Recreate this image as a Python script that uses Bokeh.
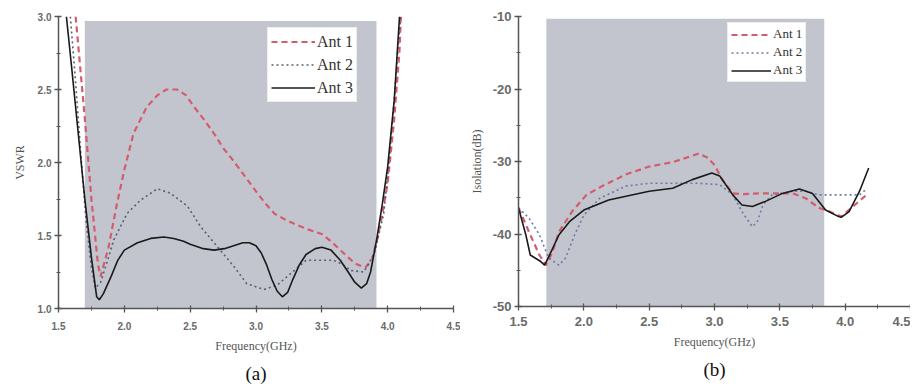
from bokeh.plotting import figure
from bokeh.layouts import row
from bokeh.models import Range1d, Legend, LegendItem, Title, FixedTicker, PrintfTickFormatter
from bokeh.embed import file_html
from bokeh.resources import INLINE

# ---------- Panel (a): VSWR ----------
a_ant1_f = [1.63, 1.66, 1.70, 1.75, 1.80, 1.82, 1.88, 1.94, 2.00, 2.07, 2.17, 2.25, 2.32, 2.40, 2.47, 2.53, 2.60,
            2.68, 2.75, 2.83, 2.92, 3.01, 3.08, 3.14, 3.22, 3.29, 3.40, 3.50, 3.57, 3.64, 3.70, 3.75, 3.80, 3.83,
            3.88, 3.92, 3.96, 4.00, 4.05, 4.09, 4.10]
a_ant1_v = [3.00, 2.70, 2.30, 1.75, 1.30, 1.22, 1.42, 1.70, 1.95, 2.20, 2.38, 2.46, 2.50, 2.50, 2.46, 2.38, 2.30,
            2.20, 2.10, 2.01, 1.90, 1.79, 1.71, 1.65, 1.61, 1.58, 1.54, 1.51, 1.46, 1.40, 1.35, 1.31, 1.29, 1.28,
            1.33, 1.47, 1.65, 1.86, 2.30, 2.77, 3.00]

a_ant2_f = [1.59, 1.63, 1.67, 1.71, 1.75, 1.78, 1.82, 1.87, 1.92, 2.02, 2.12, 2.25, 2.35, 2.48, 2.58, 2.71, 2.83,
            2.93, 3.06, 3.16, 3.29, 3.38, 3.49, 3.59, 3.66, 3.72, 3.82, 3.90, 3.97, 4.01, 4.05, 4.08, 4.10]
a_ant2_v = [3.00, 2.55, 2.05, 1.60, 1.28, 1.14, 1.18, 1.32, 1.47, 1.65, 1.74, 1.82, 1.79, 1.70, 1.56, 1.42, 1.29,
            1.17, 1.13, 1.16, 1.26, 1.33, 1.33, 1.33, 1.30, 1.26, 1.25, 1.38, 1.65, 2.00, 2.43, 2.80, 3.00]

a_ant3_f = [1.56, 1.60, 1.65, 1.70, 1.75, 1.79, 1.81, 1.84, 1.90, 1.95, 2.00, 2.10, 2.20, 2.30, 2.375, 2.45, 2.50,
            2.60, 2.68, 2.76, 2.83, 2.90, 2.95, 3.00, 3.04, 3.08, 3.12, 3.16, 3.20, 3.24, 3.28, 3.33, 3.38, 3.45,
            3.50, 3.57, 3.64, 3.70, 3.75, 3.80, 3.84, 3.87, 3.92, 3.96, 4.00, 4.05, 4.09]
a_ant3_v = [3.00, 2.65, 2.20, 1.75, 1.35, 1.08, 1.06, 1.10, 1.22, 1.33, 1.40, 1.45, 1.48, 1.49, 1.48, 1.46, 1.44,
            1.41, 1.40, 1.41, 1.43, 1.45, 1.45, 1.43, 1.38, 1.30, 1.20, 1.12, 1.08, 1.11, 1.20, 1.30, 1.37, 1.41,
            1.42, 1.40, 1.33, 1.25, 1.18, 1.14, 1.17, 1.25, 1.49, 1.72, 1.97, 2.43, 3.00]

a_band = [1.70, 3.915]
a_band_top = 2.97

# ---------- Panel (b): Isolation ----------
b_ant1_f = [1.50, 1.58, 1.66, 1.71, 1.76, 1.81, 1.91, 2.02, 2.14, 2.32, 2.50, 2.68, 2.83, 2.88, 2.95, 3.00, 3.06,
            3.14, 3.21, 3.34, 3.49, 3.60, 3.70, 3.80, 3.88, 3.97, 4.06, 4.17]
b_ant1_v = [-36.4, -39.7, -42.9, -44.3, -42.5, -39.7, -36.9, -34.6, -33.4, -31.8, -30.7, -30.1, -29.2, -28.9,
            -29.5, -30.5, -32.5, -34.4, -34.5, -34.4, -34.4, -34.4, -35.1, -36.4, -36.9, -37.6, -36.2, -34.5]

b_ant2_f = [1.50, 1.58, 1.66, 1.73, 1.81, 1.86, 1.93, 2.00, 2.12, 2.32, 2.50, 2.70, 2.88, 3.04, 3.14, 3.21, 3.27,
            3.29, 3.33, 3.37, 3.44, 3.60, 3.70, 3.80, 3.90, 4.00, 4.11, 4.17]
b_ant2_v = [-36.4, -37.8, -40.1, -43.3, -44.3, -43.3, -40.1, -37.4, -35.1, -33.4, -33.0, -33.0, -33.0, -33.2,
            -34.6, -36.9, -38.5, -39.0, -38.2, -36.0, -34.6, -34.1, -34.1, -34.6, -34.6, -34.6, -34.6, -33.7]

b_ant3_f = [1.50, 1.556, 1.59, 1.67, 1.70, 1.73, 1.81, 1.89, 2.00, 2.19, 2.50, 2.68, 2.83, 2.98, 3.04, 3.14, 3.21,
            3.29, 3.39, 3.52, 3.65, 3.75, 3.85, 3.95, 3.97, 4.03, 4.11, 4.18]
b_ant3_v = [-36.4, -40.1, -42.9, -43.8, -44.3, -43.2, -40.1, -38.3, -36.7, -35.3, -34.1, -33.7, -32.5, -31.6,
            -32.0, -34.6, -36.0, -36.2, -35.5, -34.4, -33.8, -34.4, -36.7, -37.6, -37.7, -36.9, -34.1, -30.9]

b_band = [1.713, 3.84]
b_band_top = -10.3

x_ticks = [1.5, 2.0, 2.5, 3.0, 3.5, 4.0, 4.5]
x_minor = [1.75, 2.25, 2.75, 3.25, 3.75, 4.25]
a_yticks = [1.0, 1.5, 2.0, 2.5, 3.0]
a_yminor = [1.25, 1.75, 2.25, 2.75]
b_yticks = [-50, -40, -30, -20, -10]
b_yminor = [-45, -35, -25, -15]
labels = ["Ant 1", "Ant 2", "Ant 3"]

BG = "#c2c5ce"
RED = "#d45c6c"
SERIF = "Liberation Serif"


def make_panel(fw, fh, left, right, top, bottom, ylim, yticks, yminor, yfmt, ylabel, band, band_top,
               series, tick_fs, dot_color):
    p = figure(frame_width=fw, frame_height=fh, output_backend="svg", toolbar_location=None,
               x_range=Range1d(1.5, 4.5), y_range=Range1d(*ylim),
               min_border_left=left, min_border_right=right, min_border_top=top,
               min_border_bottom=bottom)
    p.outline_line_color = None
    p.grid.visible = False
    p.background_fill_color = "white"
    p.border_fill_color = "white"

    p.quad(left=[band[0]], right=[band[1]], bottom=[ylim[0]], top=[band_top],
           fill_color=BG, line_color=None)

    styles = [dict(color=RED, line_dash="6 4", line_width=2.2),
              dict(color=dot_color, line_dash="2 3", line_width=1.6),
              dict(color="#1a1a1a", line_dash="solid", line_width=1.6)]
    renderers = []
    for (fx, fy), st in zip(series, styles):
        r = p.line(fx, fy, line_color=st["color"], line_dash=st["line_dash"], line_width=st["line_width"])
        renderers.append(r)

    for ax in (p.xaxis[0], p.yaxis[0]):
        ax.axis_line_color = "#555555"
        ax.axis_line_width = 1.5
        ax.major_tick_line_color = "#555555"
        ax.minor_tick_line_color = "#555555"
        ax.major_tick_line_width = 1.3
        ax.minor_tick_line_width = 1.0
        ax.major_tick_out = 4
        ax.major_tick_in = 3
        ax.minor_tick_out = 2
        ax.minor_tick_in = 2
        ax.major_label_text_font = "Liberation Sans"
        ax.major_label_text_font_style = "bold"
        ax.major_label_text_color = "#6a6a6a"
        ax.major_label_text_font_size = tick_fs
        ax.axis_label_text_font = SERIF
        ax.axis_label_text_font_style = "normal"
        ax.axis_label_text_color = "#555555"
        ax.axis_label_text_font_size = "12px"

    p.xaxis[0].ticker = FixedTicker(ticks=x_ticks, minor_ticks=x_minor)
    p.yaxis[0].ticker = FixedTicker(ticks=yticks, minor_ticks=yminor)
    p.xaxis[0].formatter = PrintfTickFormatter(format="%.1f")
    p.yaxis[0].formatter = PrintfTickFormatter(format=yfmt)
    p.xaxis[0].axis_label = "Frequency(GHz)"
    p.yaxis[0].axis_label = ylabel
    p.xaxis[0].major_label_standoff = 9
    p.yaxis[0].major_label_standoff = 3
    p.xaxis[0].axis_label_standoff = 6
    return p, renderers


def add_legend(p, renderers, loc, fs, lh, spacing, glyph_w):
    legend = Legend(items=[LegendItem(label=l, renderers=[r]) for l, r in zip(labels, renderers)],
                    location=loc, label_text_font=SERIF, label_text_font_size=fs,
                    label_text_color="#333333", glyph_width=glyph_w, glyph_height=lh, label_standoff=2,
                    spacing=spacing, padding=3, margin=0, border_line_color="#dddddd",
                    background_fill_color="white", background_fill_alpha=1.0, label_height=lh)
    p.add_layout(legend)


pa, ra = make_panel(395, 292, 58, 7, 16, 80, (1.0, 3.0), a_yticks, a_yminor, "%.1f", "VSWR", a_band,
                    a_band_top, [(a_ant1_f, a_ant1_v), (a_ant2_f, a_ant2_v), (a_ant3_f, a_ant3_v)], "10px",
                    "#5a5f6e")
pa.yaxis[0].axis_label_standoff = 8
add_legend(pa, ra, (209, 206), "16px", 21, 2, 44)

pb, rb = make_panel(392, 290, 58, 0, 15, 83, (-50, -10), b_yticks, b_yminor, "%d", "Isolation(dB)", b_band,
                    b_band_top, [(b_ant1_f, b_ant1_v), (b_ant2_f, b_ant2_v), (b_ant3_f, b_ant3_v)], "13px",
                    "#6a7aa6")
pb.yaxis[0].axis_label_standoff = 6
pb.xaxis[0].major_label_standoff = 6
add_legend(pb, rb, (209, 224), "13px", 15, 2, 40)

for p, t, so in ((pa, "(a)", 10), (pb, "(b)", 10)):
    p.add_layout(Title(text=t, align="center", text_font=SERIF, text_font_size="19px",
                       text_font_style="normal", text_color="#111111", standoff=so), "below")

layout = row(pa, pb)
open("out.html", "w").write(file_html(layout, INLINE))
